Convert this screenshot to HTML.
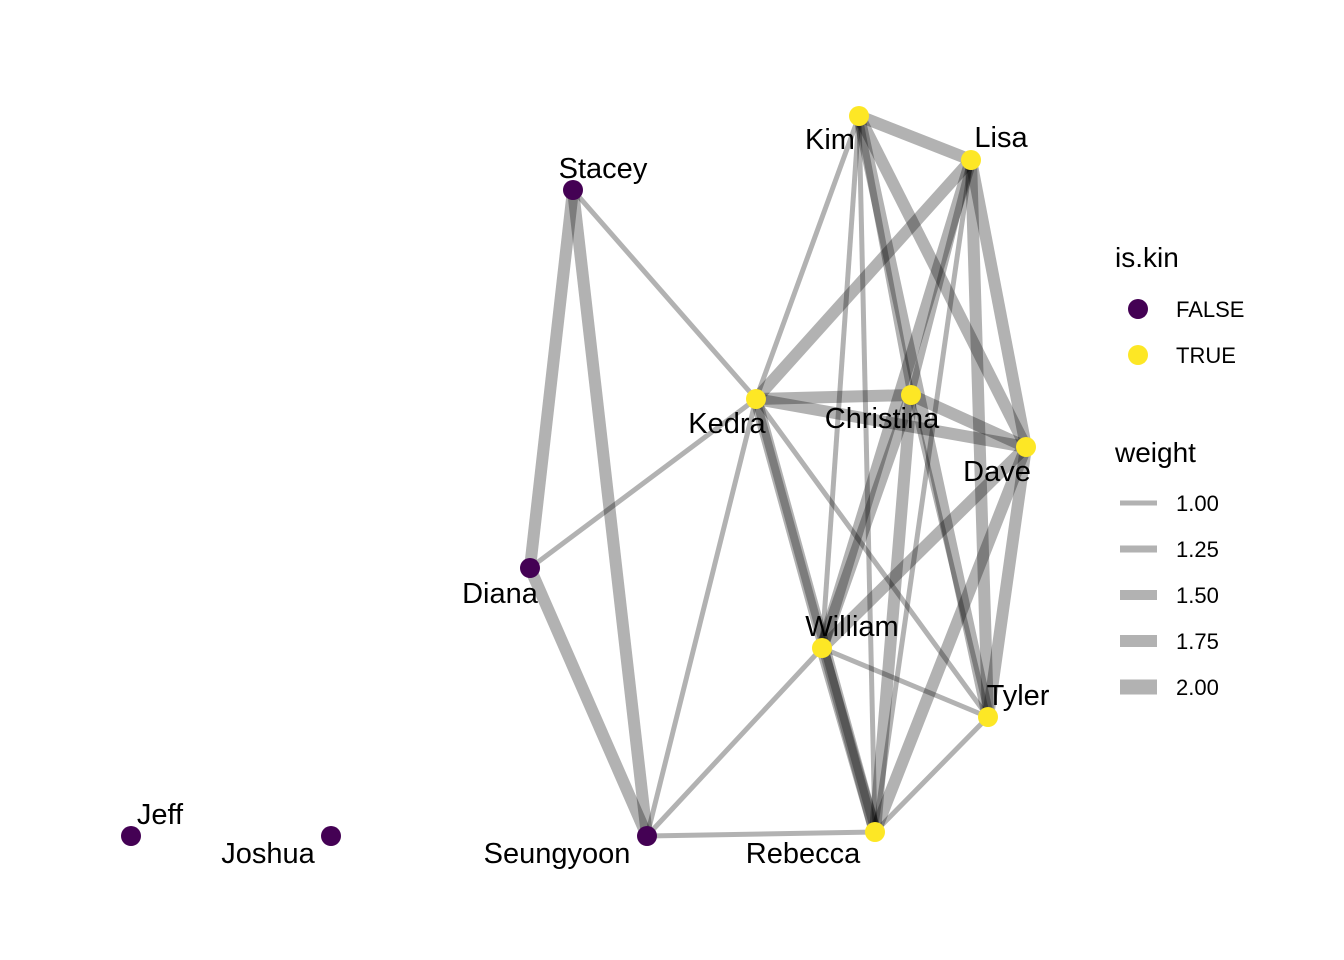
<!DOCTYPE html>
<html><head><meta charset="utf-8"><style>body{margin:0;background:#fff}svg{display:block}</style></head>
<body>
<svg width="1344" height="960" xmlns="http://www.w3.org/2000/svg" font-family="Liberation Sans, sans-serif">
<g stroke="#000" stroke-opacity="0.3" stroke-linecap="butt">
<g stroke-width="5">
<line x1="573" y1="190" x2="756" y2="399"/>
<line x1="530" y1="568" x2="756" y2="399"/>
<line x1="647" y1="836" x2="756" y2="399"/>
<line x1="647" y1="836" x2="822" y2="648"/>
<line x1="647" y1="836" x2="875" y2="832"/>
<line x1="756" y1="399" x2="859" y2="116"/>
<line x1="756" y1="399" x2="988" y2="717"/>
<line x1="859" y1="116" x2="822" y2="648"/>
<line x1="859" y1="116" x2="875" y2="832"/>
<line x1="971" y1="160" x2="875" y2="832"/>
<line x1="911" y1="395" x2="988" y2="717"/>
<line x1="822" y1="648" x2="988" y2="717"/>
<line x1="875" y1="832" x2="988" y2="717"/>
</g>
<g stroke-width="12">
<line x1="573" y1="190" x2="530" y2="568"/>
<line x1="573" y1="190" x2="647" y2="836"/>
<line x1="530" y1="568" x2="647" y2="836"/>
<line x1="756" y1="399" x2="971" y2="160"/>
<line x1="756" y1="399" x2="911" y2="395"/>
<line x1="756" y1="399" x2="1026" y2="447"/>
<line x1="756" y1="399" x2="875" y2="832"/>
<line x1="756" y1="399" x2="875" y2="832" stroke-width="8"/>
<line x1="859" y1="116" x2="971" y2="160"/>
<line x1="859" y1="116" x2="1026" y2="447"/>
<line x1="859" y1="116" x2="988" y2="717"/>
<line x1="971" y1="160" x2="1026" y2="447"/>
<line x1="971" y1="160" x2="988" y2="717"/>
<line x1="971" y1="160" x2="822" y2="648"/>
<line x1="911" y1="395" x2="1026" y2="447"/>
<line x1="911" y1="395" x2="822" y2="648"/>
<line x1="911" y1="395" x2="875" y2="832"/>
<line x1="1026" y1="447" x2="822" y2="648"/>
<line x1="1026" y1="447" x2="875" y2="832"/>
<line x1="1026" y1="447" x2="988" y2="717"/>
<line x1="822" y1="648" x2="875" y2="832"/>
</g>
<g stroke-width="7">
<line x1="859" y1="116" x2="911" y2="395"/>
<line x1="971" y1="160" x2="911" y2="395"/>
</g>
</g>
<g fill="#440154">
<circle cx="573" cy="190" r="10"/><circle cx="530" cy="568" r="10"/><circle cx="647" cy="836" r="10"/>
<circle cx="131" cy="836" r="10"/><circle cx="331" cy="836" r="10"/>
</g>
<g fill="#FDE725">
<circle cx="859" cy="116" r="10"/><circle cx="971" cy="160" r="10"/><circle cx="756" cy="399" r="10"/>
<circle cx="911" cy="395" r="10"/><circle cx="1026" cy="447" r="10"/><circle cx="822" cy="648" r="10"/>
<circle cx="988" cy="717" r="10"/><circle cx="875" cy="832" r="10"/>
</g>
<g font-size="29" fill="#000" text-anchor="middle">
<text x="830" y="149">Kim</text>
<text x="1001" y="147">Lisa</text>
<text x="603" y="178">Stacey</text>
<text x="727" y="433">Kedra</text>
<text x="882" y="428">Christina</text>
<text x="997" y="481">Dave</text>
<text x="500" y="603">Diana</text>
<text x="852" y="636">William</text>
<text x="1018" y="705">Tyler</text>
<text x="803" y="863">Rebecca</text>
<text x="557" y="863">Seungyoon</text>
<text x="160" y="824">Jeff</text>
<text x="268" y="863">Joshua</text>
</g>
<text x="1115" y="267" font-size="28">is.kin</text>
<circle cx="1138" cy="309" r="10" fill="#440154"/>
<circle cx="1138" cy="355" r="10" fill="#FDE725"/>
<text x="1176" y="317" font-size="22">FALSE</text>
<text x="1176" y="363" font-size="22">TRUE</text>
<text x="1115" y="462" font-size="28">weight</text>
<g stroke="#000" stroke-opacity="0.3">
<line x1="1120" y1="503" x2="1157" y2="503" stroke-width="5"/>
<line x1="1120" y1="549" x2="1157" y2="549" stroke-width="7"/>
<line x1="1120" y1="595" x2="1157" y2="595" stroke-width="10"/>
<line x1="1120" y1="641" x2="1157" y2="641" stroke-width="12"/>
<line x1="1120" y1="687" x2="1157" y2="687" stroke-width="15"/>
</g>
<g font-size="22">
<text x="1176" y="511">1.00</text>
<text x="1176" y="557">1.25</text>
<text x="1176" y="603">1.50</text>
<text x="1176" y="649">1.75</text>
<text x="1176" y="695">2.00</text>
</g>
</svg>
</body></html>
